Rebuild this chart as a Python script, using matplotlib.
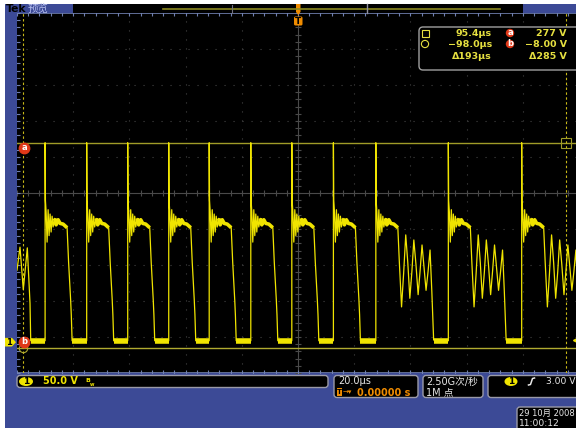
import matplotlib
matplotlib.use('Agg')
import matplotlib.pyplot as plt
import matplotlib.transforms as mtransforms
from matplotlib.patches import Rectangle, FancyBboxPatch, Circle, Ellipse, Polygon

plt.rcParams['font.family'] = ['DejaVu Sans', 'Noto Sans CJK SC']

# scope settings (20 us/div, 50 V/div, 10 x 10 divisions)
t_min, t_max = -100.0, 100.0
v_min, v_max = -42.8, 457.2
t_div, v_div = 20.0, 50.0

# trace
lead_t = [-100.0, -98.93, -97.76, -96.33, -95.37, -95.12]
lead_v = [100, 132, 73, 131, 54, 2]
rise_t = [-90.0, -75.2, -60.6, -46.0, -31.6, -16.8, -2.2, 12.6, 27.7, 53.5, 79.6]
pulse_osc = [False, False, False, False, False, False, False, False, True, True, True]
low_v = 2
# spike + ringing + plateau after each rising edge (offsets from the edge)
ring_dt = [0, 0.11, 0.36, 0.71, 1.07, 1.42, 1.78, 2.14, 2.49, 2.85, 3.38, 3.91, 4.63, 5.34, 6.41, 7.83]
ring_v = [277, 197, 181, 139, 184, 148, 178, 153, 175, 160, 172, 163, 170, 165, 164, 159]
# clean falling edge (offsets from plateau end)
fall_dt = [0, 0.53, 1.25, 1.49, 1.78]
fall_v = [159, 111, 59, 38, 2]
# oscillating falling edge (offsets from plateau end)
osc_dt = [0, 0.55, 1.32, 2.05, 2.81, 3.55, 4.27, 5.0, 5.69, 6.45, 7.22, 7.9, 8.61, 9.3, 10.04, 10.75, 11.46, 12.1, 12.74]
osc_v = [159, 110, 49, 95, 149, 110, 61, 98, 142, 108, 66, 98, 135, 105, 72, 98, 128, 70, 3]

# cursors / readouts
cur_a_t, cur_b_t = 95.4, -98.0
cur_a_v, cur_b_v = 277, -8.00
ch_scale = '50.0 V'
time_scale = '20.0µs'
trig_pos = '0.00000 s'
sample_rate = '2.50G次/秒'
rec_len = '1M 点'
trig_level = '3.00 V'
date_str = '29 10月 2008'
time_str = '11:00:12'

YEL = '#f0e400'
BLUE = '#3c4a96'
ORANGE = '#f08c00'
TXT = '#e8e8e8'
RTXT = '#e6e040'

fig = plt.figure(figsize=(5.76, 4.28), dpi=100)

bg = fig.add_axes([0, 0, 1, 1], zorder=0)
bg.set_xlim(0, 576)
bg.set_ylim(428, 0)
bg.axis('off')
bg.add_patch(Rectangle((5, 4), 580, 430, facecolor=BLUE, edgecolor='none'))

# ---- graticule / waveform
ax = fig.add_axes([17 / 576, 55 / 428, 562 / 576, 360 / 428], zorder=1)
ax.set_facecolor('black')
ax.set_xlim(t_min, t_max)
ax.set_ylim(v_min, v_max)
ax.set_xticks([])
ax.set_yticks([])
for s in ax.spines.values():
    s.set_visible(False)

for k in range(1, 10):
    t = t_min + k * t_div
    v = v_min + k * v_div
    if k != 5:
        ax.axvline(t, color='#444444', lw=0.8, ls=(0, (1, 7.1)))
        ax.axhline(v, color='#444444', lw=0.8, ls=(0, (1, 7.1)))
t_c = 0.0
v_c = v_min + 5 * v_div
ax.axvline(t_c, color='#4a4a4a', lw=0.8)
ax.axhline(v_c, color='#4a4a4a', lw=0.8)
minor_t = [t_min + k * t_div / 5 for k in range(51)]
minor_v = [v_min + k * v_div / 5 for k in range(51)]
ax.plot(minor_t, [v_c] * len(minor_t), ls='none', marker='|', ms=4, mew=0.8, color='#4a4a4a')
ax.plot([t_c] * len(minor_v), minor_v, ls='none', marker='_', ms=4, mew=0.8, color='#4a4a4a')
# edge border with ticks
ax.axhline(v_max, color='#7080b0', lw=1.2)
ax.axhline(v_min, color='#7080b0', lw=1.2)
ax.plot(minor_t, [v_max] * len(minor_t), ls='none', marker='|', ms=5, mew=0.8, color='#7080b0')
ax.plot(minor_t, [v_min] * len(minor_t), ls='none', marker='|', ms=5, mew=0.8, color='#7080b0')
ax.plot([t_min] * len(minor_v), minor_v, ls='none', marker='_', ms=5, mew=0.8, color='#7080b0')

# build trace
ts, vs = list(lead_t), list(lead_v)
lows, plats = [], []
prev = lead_t[-1]
for r, osc in zip(rise_t, pulse_osc):
    lows.append((prev, r))
    ts.append(r)
    vs.append(low_v)
    ts += [r + d for d in ring_dt]
    vs += ring_v
    plats.append(([r + d for d in ring_dt[10:]], ring_v[10:]))
    end = r + ring_dt[-1]
    fdt, fv = (osc_dt, osc_v) if osc else (fall_dt, fall_v)
    ts += [end + d for d in fdt[1:]]
    vs += fv[1:]
    prev = end + fdt[-1]

ax.plot(ts, vs, color=YEL, lw=0.9, zorder=5)
for a, b in lows:
    ax.plot([a, b], [low_v, low_v], color=YEL, lw=4, solid_capstyle='butt', zorder=5)
for pt, pv in plats:
    ax.plot(pt, pv, color=YEL, lw=2.6, solid_capstyle='butt', zorder=5)

# cursors
ax.axhline(cur_a_v, color='#a09c28', lw=1.0, zorder=4)
ax.axhline(cur_b_v, color='#b0aa30', lw=1.0, zorder=4)
ax.axvline(cur_a_t, color='#c8b818', lw=0.8, ls=(0, (2.2, 2.2)), zorder=4)
ax.axvline(cur_b_t, color='#c8b818', lw=0.8, ls=(0, (2.2, 2.2)), zorder=4)
ax.plot([cur_a_t], [cur_a_v], marker='s', ms=6.5, mfc='none', mec='#a09c28', mew=0.8, zorder=6)
ax.plot([cur_b_t], [cur_b_v], marker='o', ms=6, mfc='none', mec='#b0aa30', mew=0.8, zorder=6)
for lab, v, dy in [('a', cur_a_v, -5), ('b', cur_b_v, 6)]:
    tr = mtransforms.offset_copy(ax.transData, fig=fig, x=1.5, y=dy, units='dots')
    ax.plot([cur_b_t], [v], marker='o', ms=7.5, mfc='#e03818', mec='#e03818', transform=tr, zorder=7, clip_on=False)
    ax.text(cur_b_t, v, lab, transform=tr, ha='center', va='center', fontsize=6, color='#ffffff',
            fontweight='bold', zorder=8)

# ground marker (left) and trigger level marker (right)
blend = mtransforms.blended_transform_factory(ax.transAxes, ax.transData)
ax.add_patch(Polygon([(-12 / 562, 6), (-5 / 562, 6), (-1 / 562, 0), (-5 / 562, -6), (-12 / 562, -6)],
                     closed=True, transform=blend, clip_on=False,
                     facecolor=YEL, edgecolor='none', zorder=7))
ax.text(-8 / 562, 0, '1', transform=blend, ha='center', va='center', fontsize=6, color='black',
        fontweight='bold', zorder=8, clip_on=False)
ax.plot([t_max - 1.2], [3.0], marker='<', ms=4, color=YEL, zorder=7)

# ---- overlay chrome in pixel coordinates
ov = fig.add_axes([0, 0, 1, 1], zorder=2)
ov.set_xlim(0, 576)
ov.set_ylim(428, 0)
ov.axis('off')
ov.patch.set_alpha(0)

# header bar
ov.add_patch(Rectangle((73, 4), 450, 9, facecolor='black', edgecolor='none'))
ov.plot([163, 500], [8.5, 8.5], color='#8c8a20', lw=1.2)
ov.plot([232, 232], [5, 13], color='#707080', lw=0.8)
ov.plot([367, 367], [4, 13], color='#9090a0', lw=1.0)
ov.text(5.5, 8.5, 'Tek', fontsize=7.8, fontweight='bold', color='black', va='center', ha='left')
ov.text(27.5, 8.5, '预览', fontsize=7.5, color='#b8c0f0', va='center', ha='left')

# trigger position marker
ov.add_patch(Polygon([(296, 4), (300.5, 4), (300.5, 12), (298.2, 15), (296, 12)], closed=True,
                     facecolor=ORANGE, edgecolor='none'))
ov.add_patch(FancyBboxPatch((294, 16.5), 8.5, 9, boxstyle='round,pad=0,rounding_size=1.5',
                            facecolor=ORANGE, edgecolor='none'))
ov.text(298.2, 21.2, 'T', fontsize=6.5, fontweight='bold', color='black', ha='center', va='center')

# cursor readout box
ov.add_patch(FancyBboxPatch((419, 27), 170, 43, boxstyle='round,pad=0,rounding_size=4',
                            facecolor='black', edgecolor='#a0a0a0', lw=1))
ov.add_patch(Rectangle((421.5, 29.5), 7, 7, facecolor='none', edgecolor=RTXT, lw=0.8))
ov.add_patch(Circle((425, 44), 3.6, facecolor='none', edgecolor=RTXT, lw=0.8))
rows = [(33, f'{cur_a_t:.1f}µs', f'{cur_a_v:.0f} V', 'a'),
        (44, f'−{abs(cur_b_t):.1f}µs', f'−{abs(cur_b_v):.2f} V', 'b'),
        (56, f'Δ{cur_a_t - cur_b_t:.0f}µs', f'Δ{cur_a_v - cur_b_v:.0f} V', None)]
for y, tt, vv, lab in rows:
    ov.text(492, y, tt, fontsize=6.8, color=RTXT, ha='right', va='center', fontweight='bold')
    ov.text(567, y, vv, fontsize=6.8, color=RTXT, ha='right', va='center', fontweight='bold')
    if lab:
        ov.add_patch(Circle((510, y), 4.2, facecolor='#e03818', edgecolor='none'))
        ov.text(510, y - 0.3, lab, fontsize=6, color='white', ha='center', va='center', fontweight='bold')

# bottom readouts
def box(x, y, w, h):
    ov.add_patch(FancyBboxPatch((x, y), w, h, boxstyle='round,pad=0,rounding_size=3',
                                facecolor='black', edgecolor='#9a9aa8', lw=1))

box(17, 375.5, 311, 12)
ov.add_patch(Ellipse((26, 381.5), 14, 9, facecolor=YEL, edgecolor='none'))
ov.text(26, 381.7, '1', fontsize=6.5, fontweight='bold', color='black', ha='center', va='center')
ov.text(43, 381.5, ch_scale, fontsize=7, color=YEL, ha='left', va='center', fontweight='bold')
ov.text(85.5, 380, 'B', fontsize=4.5, color=YEL, ha='left', va='center', fontweight='bold')
ov.text(89.5, 384, 'w', fontsize=3.5, color=YEL, ha='left', va='center', fontweight='bold')

box(334, 375.5, 84, 22)
ov.text(338, 381.5, time_scale, fontsize=7, color=TXT, ha='left', va='center')
ov.add_patch(Rectangle((336.5, 388), 5.5, 8, facecolor=ORANGE, edgecolor='none'))
ov.text(339.2, 392, 'T', fontsize=5, fontweight='bold', color='black', ha='center', va='center')
ov.text(342.5, 392, '→▾', fontsize=5, color=ORANGE, ha='left', va='center')
ov.text(357, 392.5, trig_pos, fontsize=7, color=ORANGE, ha='left', va='center', fontweight='bold')

box(423, 375.5, 60, 22)
ov.text(426, 381.5, sample_rate, fontsize=7, color=TXT, ha='left', va='center')
ov.text(426, 392.5, rec_len, fontsize=7, color=TXT, ha='left', va='center')

box(488, 375.5, 100, 22)
ov.add_patch(Ellipse((511, 381.5), 13, 9, facecolor=YEL, edgecolor='none'))
ov.text(511, 381.7, '1', fontsize=6.5, fontweight='bold', color='black', ha='center', va='center')
ov.plot([528.5, 530.5, 532.5, 534.5], [385, 384.5, 378.5, 378], color=TXT, lw=1.1)
ov.text(546, 381.5, trig_level, fontsize=6.6, color=TXT, ha='left', va='center')

box(517, 407, 70, 25)
ov.text(519, 413.5, date_str, fontsize=6.0, color=TXT, ha='left', va='center')
ov.text(519, 423, time_str, fontsize=6.6, color=TXT, ha='left', va='center')

fig.savefig('out.png', dpi=100, facecolor='white')
